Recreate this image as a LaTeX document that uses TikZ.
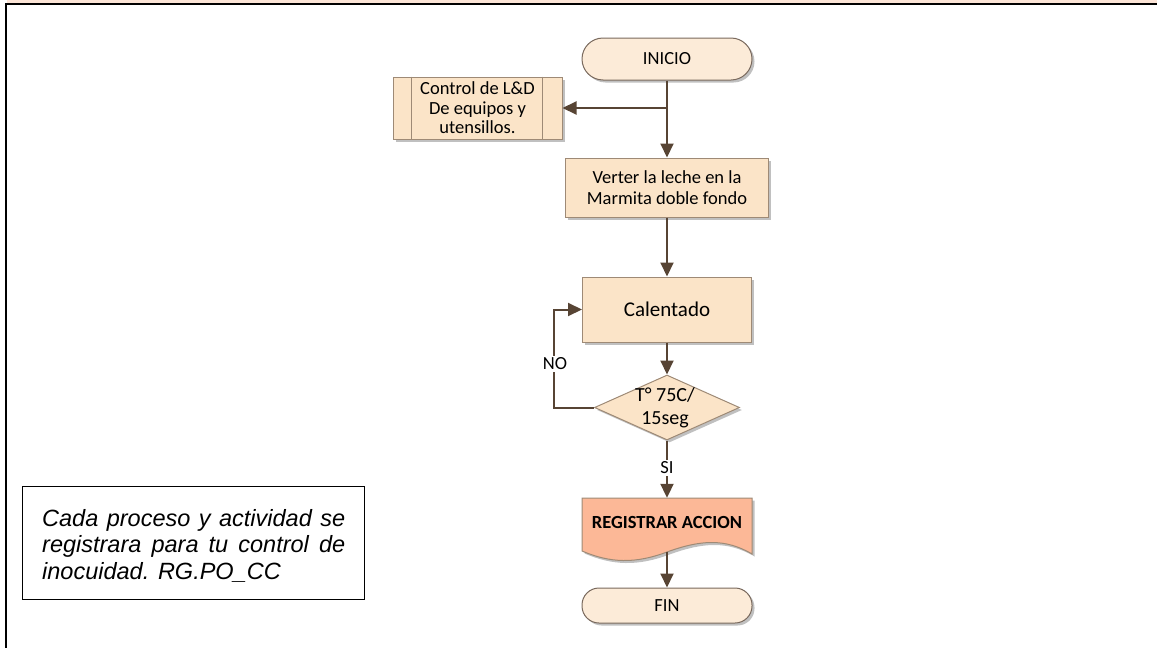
\documentclass[tikz,border=0pt]{standalone}
\usepackage{fontspec}
\setmainfont{Carlito}
\newfontfamily\notefont{Liberation Sans}
\usetikzlibrary{arrows.meta,shadows,shapes.geometric}
\definecolor{boxfill}{HTML}{FBE4C8}
\definecolor{boxline}{HTML}{9E8A76}
\definecolor{conn}{HTML}{574434}
\definecolor{regfill}{HTML}{FCB897}
\definecolor{strip}{HTML}{FCE4D6}
\definecolor{termfill}{HTML}{FCEBD8}
\tikzset{
  flowfont/.style={font=\fontsize{18.5}{20.5}\selectfont},
  shad/.style={drop shadow={shadow xshift=2.5pt,shadow yshift=-2.5pt,fill=black!45,opacity=0.55}},
  procbox/.style={draw=boxline,line width=1pt,fill=boxfill,shad,inner sep=0pt,align=center,flowfont},
  termbox/.style={procbox,fill=termfill,draw=conn!80},
  conline/.style={draw=conn,line width=2pt},
  conarrow/.style={conline,-{Triangle[length=14pt,width=13pt]}},
  lbl/.style={fill=white,inner sep=1.5pt,flowfont}
}
\begin{document}
\begin{tikzpicture}[x=1pt,y=-1pt]
\useasboundingbox (0,0) rectangle (1157,648);
% frame
\fill[strip] (7,0) rectangle (1157,3.2);
\draw[black,line width=2pt] (6,4) -- (1157,4);
\draw[black,line width=2.2pt] (6,3) -- (6,648);
% note
\node[draw=black,line width=1pt,minimum width=342,minimum height=113,inner sep=0pt] (note) at (193,542.5) {};
\node[anchor=north west,inner sep=0pt,text width=303pt,align=justify,font=\notefont\itshape\fontsize{23.5}{26.5}\selectfont] (notetext) at (42,509) {Cada proceso y actividad se registrara para tu control de inocuidad. RG.PO\_CC};
% flow nodes
\node[termbox,rounded corners=21pt,minimum width=170,minimum height=42] (ini) at (667,59) {INICIO};
\node[procbox,minimum width=169,minimum height=62] (ctrl) at (477.5,108) {};
\draw[boxline,line width=1pt] ([xshift=19pt]ctrl.north west) -- ([xshift=19pt]ctrl.south west);
\draw[boxline,line width=1pt] ([xshift=-20pt]ctrl.north east) -- ([xshift=-20pt]ctrl.south east);
\node[align=center,flowfont,font=\fontsize{18.5}{19.5}\selectfont,inner sep=0pt] (ctrltext) at (ctrl) {Control de L\&D\\De equipos y\\utensillos.};
\node[procbox,minimum width=203,minimum height=59,font=\fontsize{18.5}{21}\selectfont] (ver) at (667,187.5) {Verter la leche en la\\Marmita doble fondo};
\node[procbox,minimum width=169,minimum height=65,font=\fontsize{21}{24}\selectfont] (cal) at (667,309.5) {Calentado};
\node[diamond,draw=boxline,line width=1pt,fill=boxfill,shad,minimum width=145,minimum height=65,inner sep=0pt] (dia) at (667,407.5) {};
\node[inner sep=0pt,align=center,font=\fontsize{20}{23.5}\selectfont] (diatext) at (665,408) {T° 75C/\\15seg};
% document shape
\fill[black!45,opacity=0.55,shift={(2.5pt,-2.5pt)}] (582,498) -- (752,498) -- (752,554) .. controls (725,538) and (700,540) .. (667,552) .. controls (635,564) and (610,563) .. (582,551) -- cycle;
\filldraw[fill=regfill,draw=boxline,line width=1pt] (582,498) -- (752,498) -- (752,554) .. controls (725,538) and (700,540) .. (667,552) .. controls (635,564) and (610,563) .. (582,551) -- cycle;
\node[inner sep=0pt,minimum width=170,minimum height=48,font=\bfseries\fontsize{18.5}{21}\selectfont] (reg) at (667,522) {REGISTRAR ACCION};
\coordinate (regbot) at (667,552);
\node[termbox,rounded corners=17pt,minimum width=170,minimum height=35] (fin) at (667,605.5) {FIN};
% connectors
\coordinate (br) at (667,108);
\draw[conarrow] (ini.south) -- (ver.north);
\draw[conarrow] (br) -- (ctrl.east);
\draw[conarrow] (ver.south) -- (cal.north);
\draw[conarrow] (cal.south) -- (dia.north);
\draw[conarrow] (dia.west) -- ++(-40,0) |- (cal.west);
\node[lbl] (no) at (555,364) {NO};
\draw[conarrow] (dia.south) -- ([yshift=0pt]reg.north);
\node[lbl] (si) at (667,468) {SI};
\draw[conarrow] (regbot) -- (fin.north);
\end{tikzpicture}
\end{document}
